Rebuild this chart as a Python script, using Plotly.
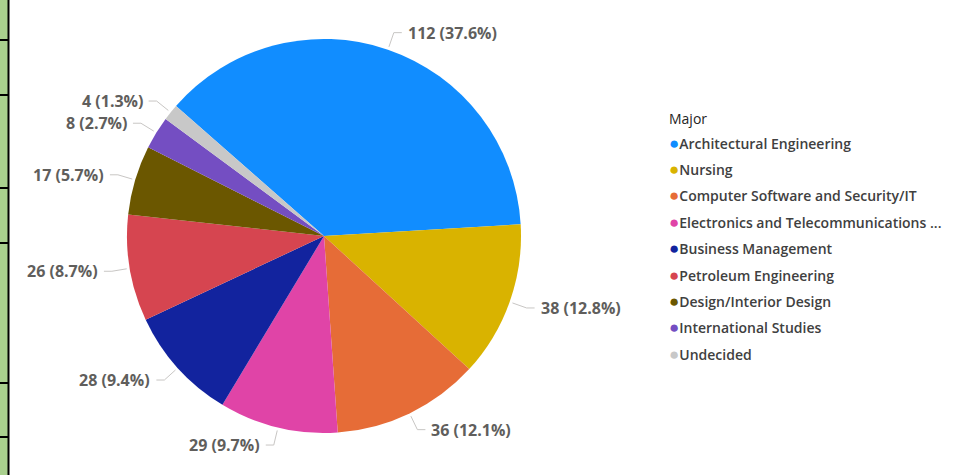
import numpy as np
import plotly.graph_objects as go

# Students by major
majors = ["Architectural Engineering", "Nursing", "Computer Software and Security/IT",
          "Electronics and Telecommunications ...", "Business Management",
          "Petroleum Engineering", "Design/Interior Design", "International Studies", "Undecided"]
counts = [112, 38, 36, 29, 28, 26, 17, 8, 4]
colors = ["#118DFF", "#D9B300", "#E66C37", "#E044A7", "#12239E",
          "#D64550", "#6B5700", "#744EC2", "#C8C8C8"]

W, H = 969, 475
cx, cy, r = 324, 236, 197      # pie centre / radius in pixels
rotation = -48.7

def px(x):
    return x / W

def py(y):
    return 1 - y / H

fig = go.Figure()
fig.add_trace(go.Pie(
    labels=majors, values=counts, sort=False, direction="clockwise",
    rotation=rotation, marker=dict(colors=colors, line=dict(width=0)),
    textinfo="none", hoverinfo="label+value+percent", showlegend=False,
    domain=dict(x=[px(cx - r), px(cx + r)], y=[py(cy + r), py(cy - r)]),
))

# data labels with leader lines, placed at each slice's mid angle
total = sum(counts)
cum = np.cumsum([0] + counts)
annotations = []
shapes = []
for i, v in enumerate(counts):
    mid = np.radians(rotation + (cum[i] + v / 2) / total * 360)
    s, c = np.sin(mid), np.cos(mid)
    x0, y0 = cx + (r + 3) * s, cy - (r + 3) * c
    x1, y1 = cx + (r + 18) * s, cy - (r + 18) * c
    side = 1 if s >= 0 else -1
    x2 = x1 + 8 * side
    shapes.append(dict(type="path", xref="paper", yref="paper",
                       path=f"M {px(x0)} {py(y0)} L {px(x1)} {py(y1)} L {px(x2)} {py(y1)}",
                       line=dict(color="#C8C6C4", width=1)))
    annotations.append(dict(
        x=px(x2 + 4 * side), y=py(y1), xref="paper", yref="paper",
        text=f"{v} ({v / total * 100:.1f}%)", showarrow=False,
        xanchor="left" if side > 0 else "right", yanchor="middle",
        font=dict(family="Open Sans", size=16, color="#605E5C", weight=700)))

# legend drawn as text so the dots sit close to the names
annotations.append(dict(x=px(667), y=py(118), xref="paper", yref="paper", text="Major",
                        showarrow=False, xanchor="left", yanchor="middle",
                        font=dict(family="Open Sans", size=14, color="#252423")))
for i, (m, col) in enumerate(zip(majors, colors)):
    annotations.append(dict(
        x=px(667), y=py(142 + i * 26.4), xref="paper", yref="paper",
        text=f"<span style='color:{col};font-size:17px'>●</span>{m}",
        showarrow=False, xanchor="left", yanchor="middle",
        font=dict(family="Open Sans", size=14, color="#404040", weight=600)))

# spreadsheet strip on the left edge of the screenshot
shapes.append(dict(type="rect", xref="paper", yref="paper", x0=0, x1=px(8), y0=0, y1=1,
                   fillcolor="#A9D08E", line=dict(width=0), layer="below"))
shapes.append(dict(type="line", xref="paper", yref="paper", x0=px(8.5), x1=px(8.5), y0=0, y1=1,
                   line=dict(color="black", width=2)))
for gy in [40, 95, 188, 243, 383, 437]:
    shapes.append(dict(type="line", xref="paper", yref="paper", x0=0, x1=px(8.5),
                       y0=py(gy), y1=py(gy), line=dict(color="black", width=2)))

fig.update_layout(
    width=W, height=H, margin=dict(l=0, r=0, t=0, b=0),
    paper_bgcolor="white", plot_bgcolor="white",
    annotations=annotations, shapes=shapes,
)

fig.write_html("out.html", config={"displayModeBar": False},
               post_script="document.body.style.margin='0px';")
